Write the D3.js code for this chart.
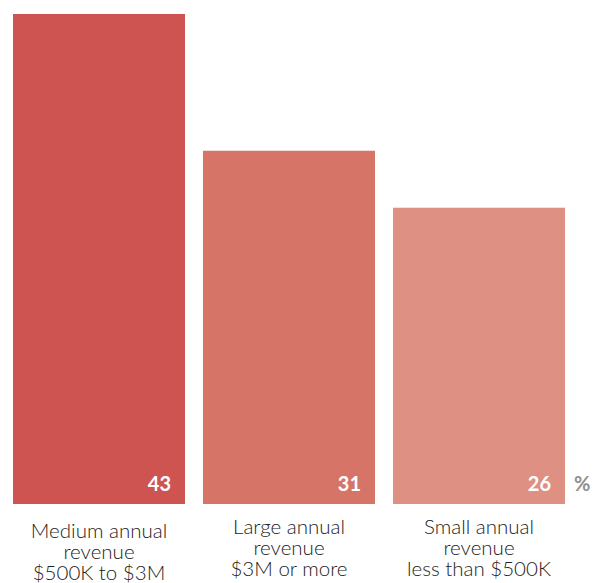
<!DOCTYPE html>
<html>
<head>
<meta charset="utf-8">
<script src="https://cdn.jsdelivr.net/npm/d3@7"></script>
<style>
  html, body { margin: 0; padding: 0; background: #fff; }
  svg { display: block; font-family: Lato, "Noto Sans", sans-serif; }
</style>
</head>
<body>
<div id="container"></div>
<script>
// data
const categories = ['Medium', 'Large', 'Small'];
const values = [43, 31, 26];
const labelLines = [
  ['Medium annual', 'revenue', '$500K to $3M'],
  ['Large annual', 'revenue', '$3M or more'],
  ['Small annual', 'revenue', 'less than $500K']
];
const colors = ['#cd5450', '#d67468', '#de9182'];

const width = 598;
const height = 583;

const svg = d3.select('#container')
  .append('svg')
  .attr('width', width)
  .attr('height', height);

// scales
const xScale = d3.scaleBand()
  .domain(categories)
  .range([13, 565])
  .paddingInner(18 / 190)
  .paddingOuter(0);

const yScale = d3.scaleLinear()
  .domain([0, 43])
  .range([504, 14]);

// bars
svg.selectAll('rect.bar')
  .data(values)
  .enter()
  .append('rect')
  .attr('class', 'bar')
  .attr('x', (d, i) => xScale(categories[i]))
  .attr('y', d => yScale(d))
  .attr('width', xScale.bandwidth())
  .attr('height', d => yScale(0) - yScale(d))
  .attr('fill', (d, i) => colors[i]);

// value labels
svg.selectAll('text.value')
  .data(values)
  .enter()
  .append('text')
  .attr('class', 'value')
  .attr('x', (d, i) => xScale(categories[i]) + xScale.bandwidth() - 14)
  .attr('y', yScale(0) - 13)
  .attr('text-anchor', 'end')
  .attr('fill', '#fff')
  .attr('font-weight', 'bold')
  .attr('font-size', 20)
  .text(d => d);

// percent sign
svg.append('text')
  .attr('x', xScale(categories[2]) + xScale.bandwidth() + 9)
  .attr('y', yScale(0) - 13)
  .attr('fill', '#8f8f8f')
  .attr('font-weight', 'bold')
  .attr('font-size', 20)
  .text('%');

// category labels
const labelTop = [538, 534, 534];
const cat = svg.selectAll('text.cat')
  .data(labelLines)
  .enter()
  .append('text')
  .attr('class', 'cat')
  .attr('text-anchor', 'middle')
  .attr('fill', '#222')
  .attr('font-size', 20.5)
  .attr('font-weight', 300);

cat.selectAll('tspan')
  .data((d, i) => d.map(line => ({ line, i })))
  .enter()
  .append('tspan')
  .attr('x', d => xScale(categories[d.i]) + xScale.bandwidth() / 2)
  .attr('y', (d, j) => labelTop[d.i] + j * 21)
  .text(d => d.line);
</script>
</body>
</html>
